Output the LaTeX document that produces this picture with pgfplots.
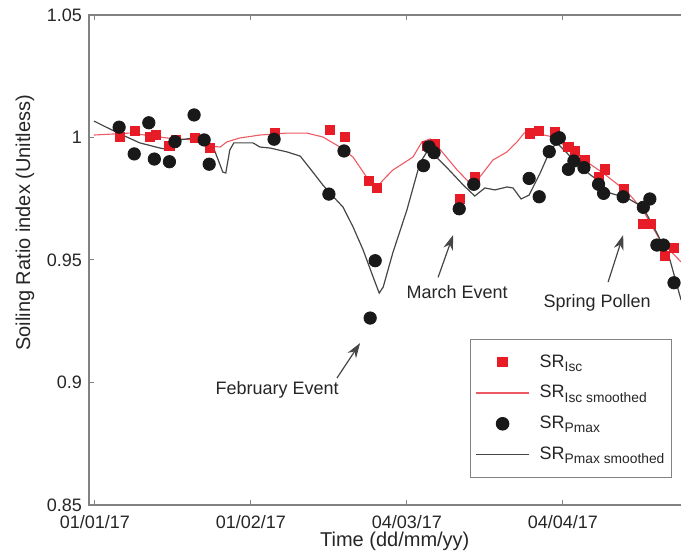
\documentclass[border=0pt]{standalone}
\usepackage{pgfplots}
\pgfplotsset{compat=1.18}
\usepackage{pgfplotstable}
\usepackage{fontspec}
\setmainfont{Liberation Sans}
\usetikzlibrary{arrows.meta}
\definecolor{srred}{RGB}{232,28,38}
\definecolor{srline}{RGB}{238,90,100}
\definecolor{sdark}{RGB}{70,70,70}
\definecolor{axgray}{RGB}{130,130,130}
\newcommand{\sub}[1]{\raisebox{-0.45ex}{\fontsize{6.9}{8}\selectfont #1}}
\pgfplotsset{
  lineleg/.style={legend image code/.code={\draw[##1,draw=#1] (0pt,0pt) -- (26.5pt,0pt);}},
  markleg/.style={legend image code/.code={\draw[mark repeat=2,mark phase=2,##1,draw=#1,fill=#1] plot coordinates {(0pt,0pt) (13.25pt,0pt) (26.5pt,0pt)};}},
}

\pgfplotstableread{
d v
5.0 1.0001
7.95 1.0027
10.9 1.0003
12.1 1.0011
14.8 0.9965
16.1 0.9990
19.9 0.9997
22.9 0.9956
35.8 1.0020
46.7 1.0031
49.7 1.0001
54.5 0.9822
56.0 0.9795
65.9 0.9965
67.6 0.9973
72.6 0.9749
75.5 0.9840
86.5 1.0017
88.3 1.0028
91.5 1.0021
94.1 0.9962
95.4 0.9946
97.4 0.9908
100.1 0.9838
101.4 0.9870
105.2 0.9789
108.9 0.9646
110.5 0.9647
113.3 0.9516
115.1 0.9550
}\isc

\pgfplotstableread{
d v
4.8 1.0042
7.8 0.9933
10.7 1.0060
11.8 0.9912
14.8 0.9901
15.9 0.9983
19.7 1.0092
21.7 0.9990
22.7 0.9891
35.6 0.9993
46.5 0.9769
49.5 0.9945
54.7 0.9263
55.7 0.9497
65.3 0.9885
66.4 0.9962
67.4 0.9938
72.4 0.9709
75.3 0.9809
86.3 0.9833
88.3 0.9758
90.3 0.9942
91.7 0.9993
92.3 0.9999
94.1 0.9870
95.2 0.9904
97.2 0.9877
100.1 0.9809
101.1 0.9772
105.0 0.9758
109.0 0.9715
110.3 0.9749
111.7 0.9561
113.0 0.9561
115.1 0.9407
}\pmax

\pgfplotstableread{
d v
-0.2 1.0010
7.0 1.0018
14.3 0.9998
19.5 0.9990
22.9 0.9965
24.9 0.9961
26.2 0.9982
28.8 0.9998
32.8 1.0010
38.2 1.0018
42.1 1.0018
45.3 1.0002
48.7 0.9961
51.3 0.9920
54.1 0.9835
56.1 0.9798
57.3 0.9827
59.2 0.9867
63.2 0.9920
65.0 0.9982
66.6 0.9994
68.2 0.9961
72.0 0.9867
74.9 0.9806
76.5 0.9839
79.1 0.9908
81.9 0.9941
83.9 0.9982
85.3 1.0018
86.5 1.0022
91.1 1.0002
94.4 0.9949
97.8 0.9900
101.0 0.9855
105.8 0.9778
108.9 0.9704
112.3 0.9582
116.5 0.9492
}\iscsm

\pgfplotstableread{
d v
-0.2 1.0067
4.6 1.0018
8.9 0.9978
12.9 0.9957
14.9 0.9949
16.9 0.9990
19.5 0.9998
21.9 0.9982
23.5 0.9961
24.5 0.9908
25.4 0.9859
26.0 0.9855
26.8 0.9949
27.6 0.9978
31.4 0.9978
32.8 0.9961
34.8 0.9957
38.2 0.9941
40.8 0.9924
43.3 0.9859
45.3 0.9806
46.7 0.9773
49.3 0.9716
51.3 0.9635
53.3 0.9541
55.3 0.9430
56.5 0.9365
57.3 0.9390
59.2 0.9529
62.0 0.9704
64.6 0.9896
66.2 0.9949
67.2 0.9933
70.0 0.9876
73.2 0.9806
75.5 0.9761
77.5 0.9794
79.5 0.9786
81.9 0.9798
83.1 0.9794
84.7 0.9749
86.3 0.9765
88.5 0.9855
90.5 0.9949
91.8 0.9978
93.8 0.9937
96.4 0.9880
99.8 0.9827
102.4 0.9773
105.8 0.9753
108.9 0.9716
111.7 0.9610
114.3 0.9500
116.5 0.9337
}\pmaxsm

\begin{document}
\begin{tikzpicture}
\begin{axis}[
  scale only axis,
  width=299.8pt, height=245pt,
  xmin=-1.19, xmax=118, ymin=0.85, ymax=1.05,
  xtick={0,31,62,93},
  xticklabels={01/01/17,01/02/17,04/03/17,04/04/17},
  ytick={0.85,0.9,0.95,1,1.05},
  yticklabels={0.85,0.9,0.95,1,1.05},
  tick align=inside, major tick length=2.5pt,
  axis line style={axgray, line width=0.6pt},
  tick style={axgray, line width=0.5pt},
  ticklabel style={font=\fontsize{9}{10}\selectfont, text=black!85},
  xticklabel style={yshift=-1.5pt},
  xlabel={Time (dd/mm/yy)},
  ylabel={Soiling Ratio index (Unitless)},
  xlabel style={font=\fontsize{10}{12}\selectfont, text=black!85, at={(axis description cs:0.51,0)}, anchor=center, yshift=-18pt},
  ylabel style={font=\fontsize{10}{12}\selectfont, text=black!85, at={(axis description cs:0,0.576)}, anchor=center, yshift=32pt},
  legend style={at={(axis cs:114.7,0.9178)}, anchor=north east, draw=axgray, line width=0.6pt,
    font=\fontsize{9}{10}\selectfont, text=black!85, row sep=3.6pt, column sep=4pt,
    inner xsep=2.5pt, inner ysep=5.5pt,
    nodes={inner ysep=2pt, inner xsep=1pt}},
  legend cell align=left,
]
\addplot[only marks, mark=square*, mark size=2.3pt, color=srred, markleg=srred]
  table[x=d,y=v]{\isc};
\addlegendentry{SR\sub{Isc}}
\addplot[color=srline, line width=0.55pt, mark=none, lineleg=srline]
  table[x=d,y=v]{\iscsm};
\addlegendentry{SR\sub{Isc smoothed}}
\addplot[only marks, mark=*, mark size=3.1pt, color=black!90, markleg=black!90]
  table[x=d,y=v]{\pmax};
\addlegendentry{SR\sub{Pmax}}
\addplot[color=sdark, line width=0.6pt, mark=none, lineleg=sdark]
  table[x=d,y=v]{\pmaxsm};
\addlegendentry{SR\sub{Pmax smoothed}}

\node[font=\fontsize{9}{10}\selectfont, text=black!85] at (axis cs:36.2,0.8969) {February Event};
\draw[sdark, line width=0.6pt, -{Stealth[length=7.5pt,width=5pt]}] (axis cs:48.1,0.9018) -- (axis cs:52.7,0.9161);
\node[font=\fontsize{9}{10}\selectfont, text=black!85] at (axis cs:72.0,0.9369) {March Event};
\draw[sdark, line width=0.6pt, -{Stealth[length=7.5pt,width=5pt]}] (axis cs:68.2,0.9429) -- (axis cs:71.2,0.9602);
\node[font=\fontsize{9}{10}\selectfont, text=black!85] at (axis cs:99.8,0.9324) {Spring Pollen};
\draw[sdark, line width=0.6pt, -{Stealth[length=7.5pt,width=5pt]}] (axis cs:102.0,0.9410) -- (axis cs:105.0,0.9602);
\end{axis}
\pgfresetboundingbox
\path[use as bounding box] ([xshift=-44.5pt,yshift=-24.5pt]current axis.south west) rectangle ([xshift=296pt,yshift=7.5pt]current axis.north west);
\end{tikzpicture}
\end{document}
